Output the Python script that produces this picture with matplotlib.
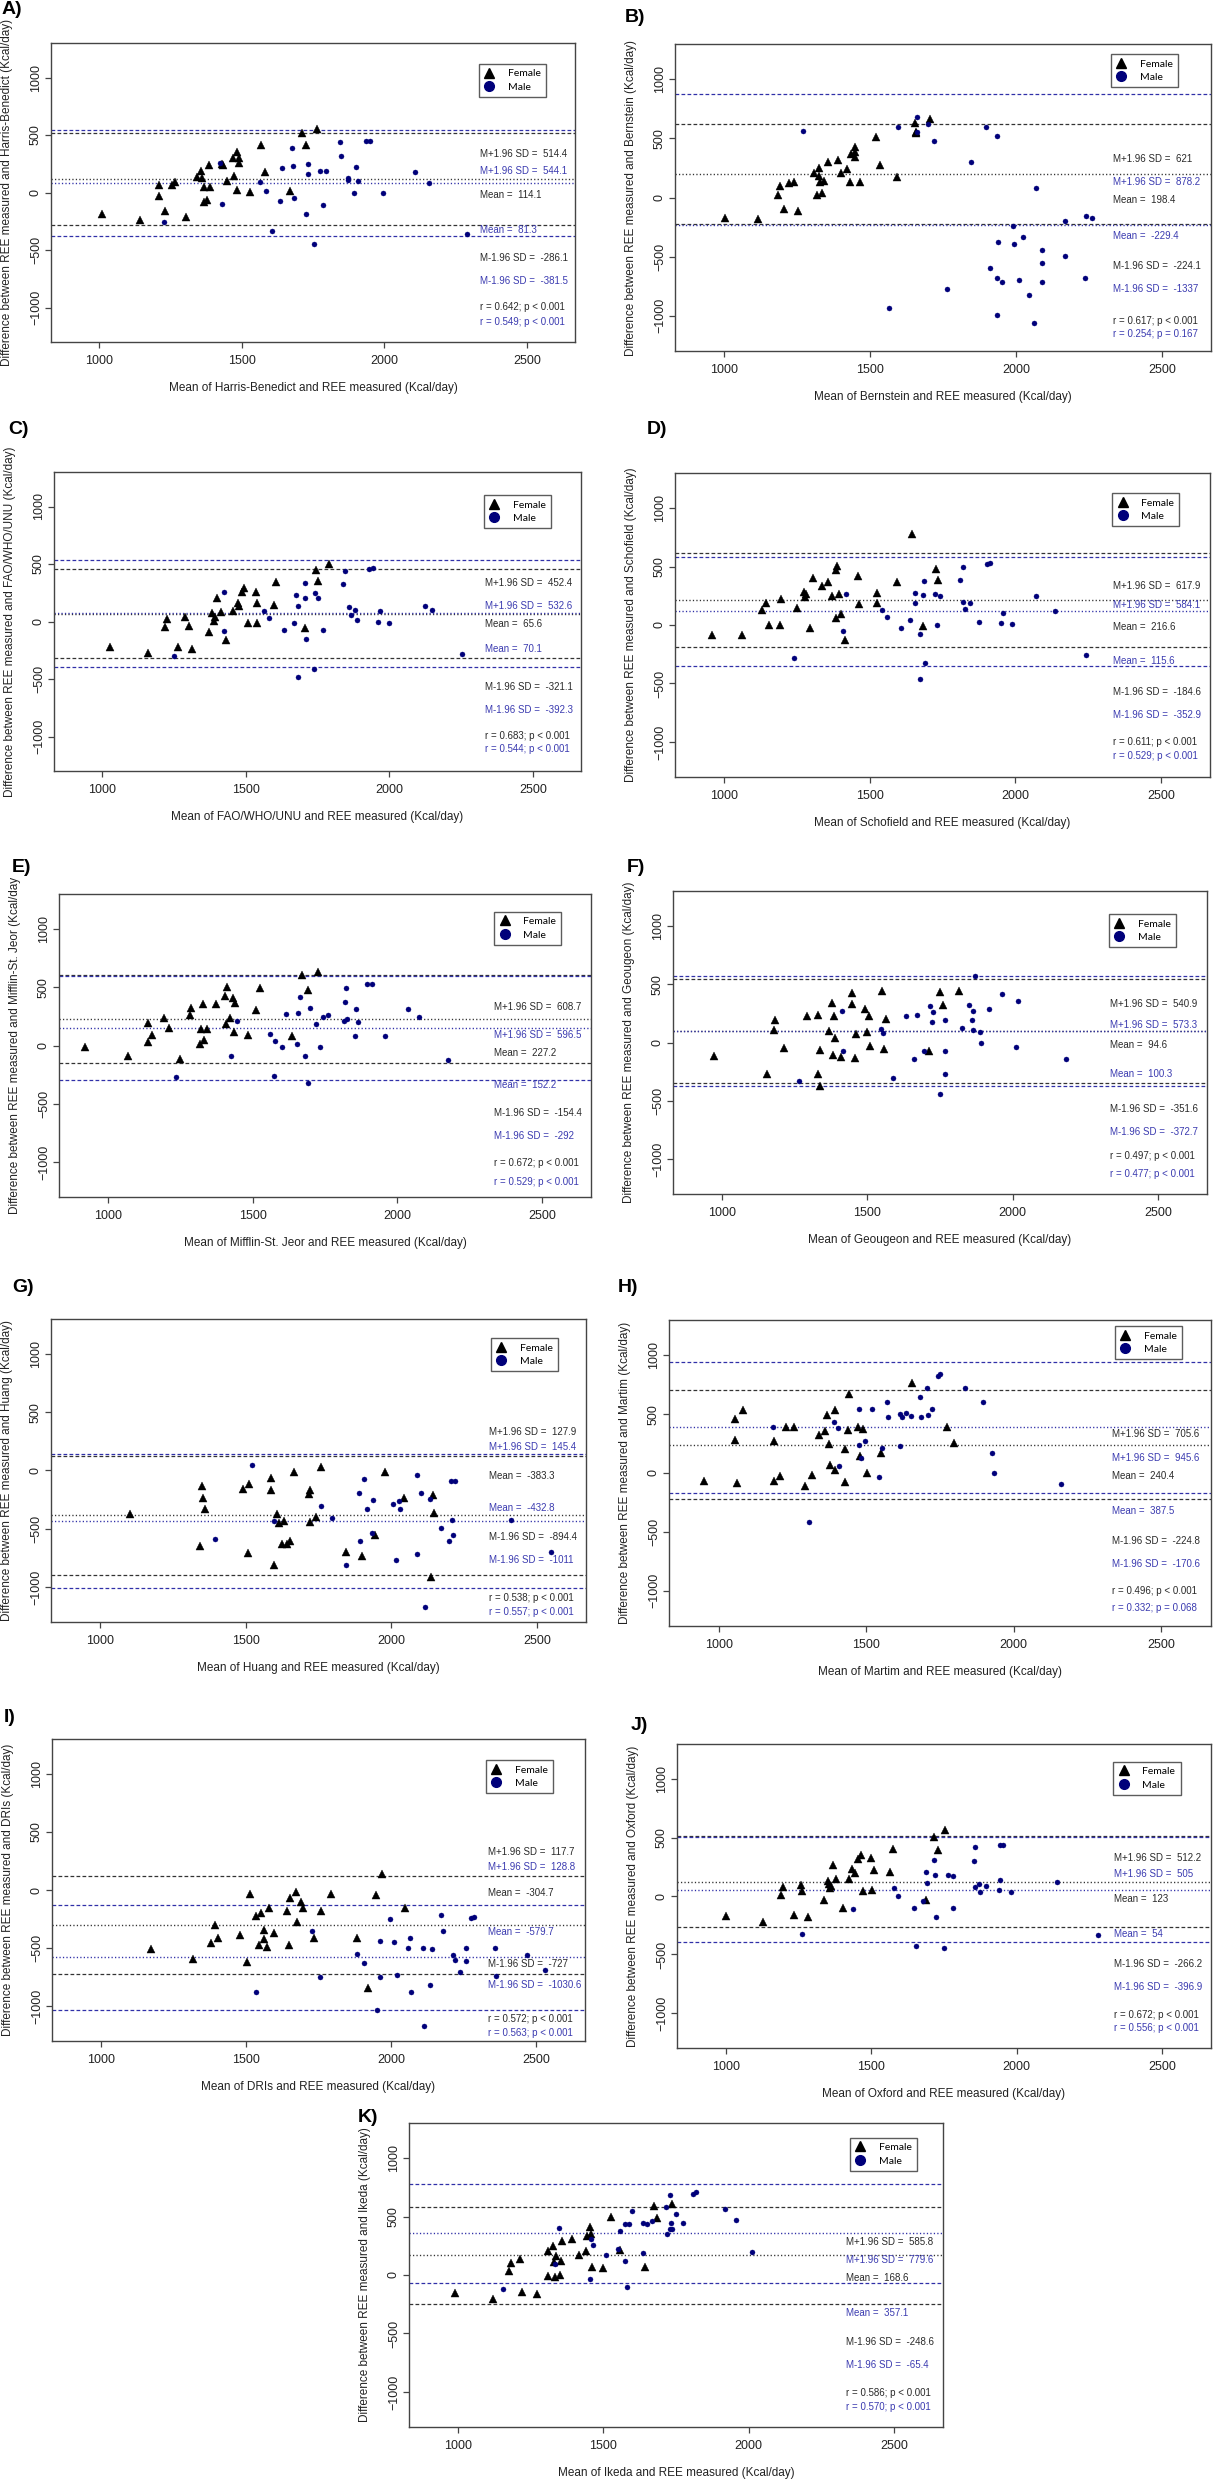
import matplotlib
matplotlib.use('Agg')
import matplotlib.pyplot as plt
from matplotlib.lines import Line2D
import matplotlib.transforms as mtransforms

# ---------------- data ----------------
letters = ['A', 'B', 'C', 'D', 'E', 'F', 'G', 'H', 'I', 'J', 'K']
methods = ['Harris-Benedict', 'Bernstein', 'FAO/WHO/UNU', 'Schofield', 'Mifflin-St. Jeor',
           'Geougeon', 'Huang', 'Martim', 'DRIs', 'Oxford', 'Ikeda']

# limits of agreement and mean bias (female / male)
fem_upper = [514.4, 621, 452.4, 617.9, 608.7, 540.9, 127.9, 705.6, 117.7, 512.2, 585.8]
fem_mean = [114.1, 198.4, 65.6, 216.6, 227.2, 94.6, -383.3, 240.4, -304.7, 123, 168.6]
fem_lower = [-286.1, -224.1, -321.1, -184.6, -154.4, -351.6, -894.4, -224.8, -727, -266.2, -248.6]
male_upper = [544.1, 878.2, 532.6, 584.1, 596.5, 573.3, 145.4, 945.6, -128.8, 505, 779.6]
male_mean = [81.3, -229.4, 70.1, 115.6, 152.2, 100.3, -432.8, 387.5, -579.7, 54, 357.1]
male_lower = [-381.5, -1337, -392.3, -352.9, -292, -372.7, -1011, -170.6, -1030.6, -396.9, -65.4]
# panel I prints the male upper limit without its minus sign
male_upper_printed = {'I': '128.8'}

fem_r = ['r = 0.642; p < 0.001', 'r = 0.617; p < 0.001', 'r = 0.683; p < 0.001',
         'r = 0.611; p < 0.001', 'r = 0.672; p < 0.001', 'r = 0.497; p < 0.001',
         'r = 0.538; p < 0.001', 'r = 0.496; p < 0.001', 'r = 0.572; p < 0.001',
         'r = 0.672; p < 0.001', 'r = 0.586; p < 0.001']
male_r = ['r = 0.549; p < 0.001', 'r = 0.254; p = 0.167', 'r = 0.544; p < 0.001',
          'r = 0.529; p < 0.001', 'r = 0.529; p < 0.001', 'r = 0.477; p < 0.001',
          'r = 0.557; p < 0.001', 'r = 0.332; p = 0.068', 'r = 0.563; p < 0.001',
          'r = 0.556; p < 0.001', 'r = 0.570; p < 0.001']

A_fem_x = [1012, 1143, 1209, 1210, 1233, 1256, 1265, 1304, 1345, 1357, 1360, 1368, 1367, 1380, 1386, 1390,
           1430, 1434, 1450, 1469, 1472, 1484, 1492, 1492, 1484, 1528, 1569, 1582, 1671, 1713, 1724, 1764]
A_fem_y = [-191, -241, 61, -32, -157, 61, 87, -214, 133, 191, 128, 52, -81, -61, 241, 52,
           249, 241, 104, 296, 142, 354, 299, 255, 23, 3, 414, 177, 12, 516, 409, 551]
A_male_x = [1229, 1424, 1431, 1565, 1586, 1607, 1633, 1640, 1678, 1680, 1685, 1725, 1732, 1732, 1755, 1776,
            1785, 1795, 1845, 1848, 1871, 1873, 1895, 1900, 1907, 1934, 1951, 1996, 2109, 2155, 2290]
A_male_y = [-258, 258, -99, 87, 17, -339, -75, 217, 386, 229, -49, -183, 252, 159, -452, 183,
            -113, 191, 443, 316, 128, 107, 0, 220, 104, 452, 452, 0, 180, 81, -359]

B_fem_x = [1004, 1117, 1184, 1190, 1206, 1223, 1241, 1255, 1309, 1318, 1326, 1326, 1328, 1334, 1343, 1355,
           1391, 1399, 1422, 1430, 1434, 1447, 1450, 1450, 1464, 1521, 1533, 1592, 1654, 1658, 1658, 1707]
B_fem_y = [-172, -186, 25, 96, -101, 124, 132, -118, 206, 20, 251, 186, 130, 39, 141, 299,
           318, 206, 239, 135, 369, 346, 431, 383, 132, 513, 276, 172, 631, 544, 558, 668]
B_male_x = [1272, 1595, 1660, 1661, 1697, 1720, 1765, 1566, 1846, 1899, 1936, 1910, 1936, 1952, 1940, 1936,
            1989, 1992, 2011, 2025, 2044, 2061, 2070, 2089, 2089, 2089, 2168, 2168, 2236, 2240, 2261]
B_male_y = [563, 597, 685, 552, 625, 479, -772, -932, 299, 597, 521, -600, -682, -713, -377, -992,
            -239, -397, -696, -338, -823, -1062, 82, -448, -555, -718, -203, -496, -682, -158, -175]

C_fem_x = [1027, 1159, 1220, 1226, 1264, 1289, 1304, 1314, 1371, 1383, 1388, 1392, 1401, 1415, 1430,
           1455, 1472, 1476, 1488, 1495, 1507, 1535, 1539, 1539, 1599, 1606, 1705, 1745, 1753, 1789]
C_fem_y = [-223, -278, -46, 20, -226, 41, -38, -243, -90, 75, 6, 35, 208, 81, -159,
           90, 159, 133, 258, 287, -17, 255, 159, -17, 142, 342, -55, 449, 350, 501]
C_male_x = [1251, 1423, 1425, 1565, 1581, 1634, 1669, 1676, 1682, 1682, 1705, 1707, 1710, 1743, 1737, 1753,
            1770, 1839, 1846, 1859, 1867, 1882, 1888, 1931, 1942, 1961, 1969, 2000, 2125, 2148, 2253]
C_male_y = [-301, 255, -84, 87, 29, -78, -12, 234, 133, -480, 333, 208, -153, 252, -417, 208,
            -78, 327, 443, 127, 58, 104, 9, 454, 466, 0, 87, -9, 139, 98, -281]

D_fem_x = [958, 1061, 1131, 1143, 1154, 1194, 1195, 1252, 1276, 1278, 1280, 1295, 1304, 1337, 1357, 1371,
           1383, 1384, 1389, 1396, 1402, 1414, 1459, 1462, 1525, 1526, 1594, 1647, 1683, 1729, 1736]
D_fem_y = [-85, -85, 128, 191, 0, 0, 222, 148, 282, 239, 262, -23, 405, 330, 370, 251,
           60, 473, 501, 265, 97, -128, 419, 182, 276, 185, 365, 781, -9, 479, 382]
D_male_x = [1240, 1420, 1409, 1544, 1560, 1606, 1640, 1656, 1656, 1673, 1683, 1686, 1690, 1673, 1725, 1731,
            1742, 1811, 1822, 1822, 1827, 1843, 1876, 1903, 1912, 1951, 1959, 1989, 2070, 2137, 2243]
D_male_y = [-279, 265, -54, 128, 68, -23, 46, 274, 188, -74, 259, 373, -322, -462, 262, 0,
            251, 385, 496, 199, 134, 188, 28, 521, 527, 17, 105, 11, 251, 123, -259]

E_fem_x = [923, 1069, 1138, 1140, 1153, 1194, 1212, 1250, 1285, 1289, 1319, 1323, 1328, 1331, 1343,
           1375, 1405, 1410, 1411, 1422, 1433, 1437, 1440, 1483, 1512, 1527, 1636, 1669, 1692, 1726]
E_fem_y = [-14, -94, 197, 26, 89, 232, 146, -112, 263, 326, 17, 140, 355, 43, 140,
           358, 423, 183, 504, 240, 406, 117, 361, 94, 306, 495, 80, 604, 472, 629]
E_male_x = [1237, 1426, 1448, 1560, 1573, 1578, 1603, 1614, 1655, 1656, 1664, 1681, 1691, 1697, 1720, 1732,
            1742, 1761, 1817, 1820, 1821, 1825, 1852, 1858, 1863, 1895, 1913, 1956, 2038, 2074, 2175]
E_male_y = [-272, -89, 206, 100, -263, 37, -17, 269, 17, 275, 418, -94, -323, 323, 183, -9,
            246, 263, 212, 369, 492, 229, 80, 309, 200, 532, 526, 80, 315, 243, -123]

F_fem_x = [972, 1156, 1180, 1182, 1212, 1294, 1329, 1329, 1336, 1338, 1368, 1380, 1381, 1384, 1390, 1410,
           1448, 1449, 1458, 1461, 1493, 1498, 1506, 1508, 1550, 1557, 1565, 1711, 1749, 1762, 1815]
F_fem_y = [-114, -271, 111, 197, -43, 226, 240, -274, -371, -63, 100, 340, -109, 231, 40, -126,
           334, 426, -134, 74, 289, 86, 226, -26, 446, -57, 200, -71, 437, 326, 443]
F_male_x = [1265, 1413, 1418, 1547, 1554, 1589, 1634, 1662, 1671, 1695, 1714, 1722, 1726, 1749, 1766,
            1768, 1768, 1827, 1851, 1859, 1863, 1865, 1872, 1887, 1890, 1920, 1964, 2012, 2018, 2182]
F_male_y = [-334, 274, -77, 120, 83, -306, 226, -140, 240, -71, 314, 177, 263, -446, 197,
            -269, -77, 126, 320, 197, 111, 274, 574, 94, 0, 291, 414, -37, 354, -140]

G_fem_x = [1103, 1345, 1351, 1352, 1361, 1491, 1507, 1511, 1586, 1587, 1598, 1606, 1616, 1624, 1632, 1642,
           1653, 1666, 1719, 1721, 1720, 1741, 1759, 1844, 1898, 1943, 1978, 2044, 2136, 2143, 2146]
G_fem_y = [-374, -650, -134, -234, -331, -160, -710, -117, -66, -171, -810, -371, -451, -633, -437, -633,
           -605, -9, -203, -168, -442, -402, 29, -696, -736, -556, -17, -237, -916, -208, -368]
G_male_x = [1395, 1522, 1598, 1759, 1796, 1843, 1889, 1894, 1905, 1915, 1932, 1936, 2004, 2017, 2025,
            2030, 2087, 2087, 2103, 2115, 2133, 2171, 2197, 2204, 2211, 2218, 2208, 2412, 2547]
G_male_y = [-591, 51, -434, -305, -405, -810, -194, -602, -71, -334, -539, -251, -291, -767, -262,
            -328, -37, -713, -197, -1170, -245, -496, -608, -94, -551, -91, -428, -428, -702]

H_fem_x = [950, 1055, 1055, 1063, 1083, 1188, 1189, 1209, 1230, 1256, 1293, 1316, 1341, 1361, 1367, 1374,
           1379, 1395, 1396, 1429, 1429, 1440, 1442, 1471, 1480, 1489, 1503, 1551, 1655, 1773, 1799]
H_fem_y = [-68, 458, 282, -82, 537, -71, 274, -28, 387, 395, -110, -20, 325, 359, 497, 243,
           65, 28, 537, 201, -73, 362, 667, 393, 144, 370, -3, 172, 766, 387, 257]
H_male_x = [1185, 1306, 1392, 1406, 1408, 1474, 1476, 1482, 1496, 1518, 1542, 1555, 1570, 1575, 1615, 1615,
            1622, 1635, 1652, 1682, 1687, 1707, 1711, 1724, 1744, 1749, 1836, 1894, 1927, 1934, 2160]
H_male_y = [393, -418, 432, 379, 62, 548, 237, 130, 268, 548, -31, 212, 607, 472, 226, 500,
            472, 514, 483, 644, 472, 718, 494, 542, 828, 845, 723, 602, 172, 3, -96]

I_fem_x = [1174, 1318, 1381, 1392, 1403, 1478, 1502, 1515, 1533, 1546, 1551, 1562, 1563, 1573, 1579, 1598,
           1642, 1648, 1652, 1672, 1677, 1689, 1697, 1735, 1759, 1793, 1883, 1922, 1949, 1969, 2049]
I_fem_y = [-510, -593, -458, -304, -410, -390, -616, -37, -223, -476, -198, -341, -424, -490, -152, -372,
           -181, -470, -72, -14, -272, -100, -152, -413, -181, -34, -415, -842, -46, 140, -158]
I_male_x = [1534, 1727, 1755, 1883, 1907, 1953, 1963, 1963, 1996, 2010, 2020, 2057, 2064, 2069, 2111, 2112,
            2135, 2141, 2171, 2180, 2214, 2219, 2238, 2259, 2259, 2274, 2287, 2357, 2363, 2468, 2531]
I_male_y = [-874, -352, -751, -553, -628, -1032, -436, -745, -252, -444, -731, -501, -415, -874, -501, -1175,
            -817, -507, -215, -355, -562, -599, -702, -496, -607, -238, -232, -496, -739, -559, -693]

J_fem_x = [1000, 1129, 1191, 1196, 1234, 1259, 1263, 1283, 1339, 1352, 1355, 1358, 1362, 1370, 1378, 1402,
           1423, 1434, 1443, 1456, 1466, 1472, 1500, 1503, 1510, 1565, 1573, 1687, 1717, 1729, 1754]
J_fem_y = [-170, -219, 11, 77, -165, 94, 43, -182, -31, 128, 99, 68, 88, 267, 148, -99,
           148, 233, 193, 313, 347, 45, 321, 48, 219, 207, 403, -31, 506, 392, 563]
J_male_x = [1262, 1436, 1578, 1591, 1646, 1653, 1679, 1687, 1692, 1717, 1719, 1721, 1750, 1765, 1781,
            1781, 1853, 1856, 1858, 1869, 1875, 1895, 1938, 1942, 1942, 1954, 1982, 2138, 2279]
J_male_y = [-327, -108, 65, 0, -102, -426, -43, 205, 114, 310, 182, -176, -443, 182, 170,
            -102, 298, 77, 415, 99, 31, 82, 48, 139, 435, 440, 31, 116, -332]

K_fem_x = [990, 1120, 1177, 1184, 1212, 1220, 1273, 1309, 1310, 1326, 1330, 1333, 1339, 1350, 1355,
           1359, 1394, 1415, 1441, 1445, 1456, 1458, 1461, 1499, 1526, 1559, 1642, 1675, 1684, 1736]
K_fem_y = [-151, -203, 37, 100, 140, -143, -166, 203, -11, 249, 109, -20, 163, -3, 117,
           289, 311, 169, 203, 337, 409, 351, 71, 60, 497, 214, 69, 591, 489, 603]
K_male_x = [1156, 1333, 1348, 1454, 1457, 1465, 1510, 1549, 1559, 1573, 1576, 1581, 1590, 1597, 1635, 1635,
            1650, 1667, 1715, 1718, 1728, 1729, 1734, 1737, 1751, 1774, 1809, 1820, 1917, 1957, 2013]
K_male_y = [-117, 91, 406, -31, 309, 257, 169, 223, 374, 123, 434, -106, 437, 551, 449, 186,
            437, 460, 580, 349, 391, 680, 449, 397, 523, 449, 697, 711, 563, 474, 200]

fem_x = [A_fem_x, B_fem_x, C_fem_x, D_fem_x, E_fem_x, F_fem_x, G_fem_x, H_fem_x, I_fem_x, J_fem_x, K_fem_x]
fem_y = [A_fem_y, B_fem_y, C_fem_y, D_fem_y, E_fem_y, F_fem_y, G_fem_y, H_fem_y, I_fem_y, J_fem_y, K_fem_y]
male_x = [A_male_x, B_male_x, C_male_x, D_male_x, E_male_x, F_male_x, G_male_x, H_male_x, I_male_x, J_male_x, K_male_x]
male_y = [A_male_y, B_male_y, C_male_y, D_male_y, E_male_y, F_male_y, G_male_y, H_male_y, I_male_y, J_male_y, K_male_y]

# ---------------- layout (pixels of the 1213 x 2481 figure) ----------------
W, H = 1213, 2481
# axes boxes: left, top, right, bottom
boxes = [(51, 43, 575, 342), (675, 44, 1211, 351),
         (54, 472, 581, 771), (675, 473, 1210, 777),
         (59, 894, 591, 1197), (673, 891, 1207, 1194),
         (51, 1319, 586, 1622), (669, 1320, 1211, 1626),
         (52, 1739, 585, 2041), (677, 1744, 1211, 2048),
         (409, 2123, 943, 2427)]
tag_pos = [(2, 10), (625, 17), (8, 430), (647, 430), (12, 867), (627, 867),
           (12, 1287), (618, 1287), (4, 1718), (631, 1725), (358, 2118)]
# legend upper-left corner in axes fraction
legend_pos = [(0.816, 0.930), (0.813, 0.967), (0.815, 0.923), (0.817, 0.934), (0.818, 0.942),
              (0.816, 0.924), (0.822, 0.937), (0.823, 0.980), (0.814, 0.930), (0.817, 0.942),
              (0.825, 0.952)]
# y (data units) of the 8 stat texts: f+, m+, f mean, m mean, f-, m-, f r, m r
text_y = [[332, 190, -22, -326, -572, -770, -998, -1123],
          [326, 129, -24, -323, -577, -772, -1043, -1159],
          [332, 132, -19, -242, -572, -770, -998, -1111],
          [334, 168, -20, -305, -570, -770, -998, -1120],
          [328, 90, -62, -342, -577, -774, -1011, -1169],
          [330, 150, -21, -273, -571, -768, -974, -1131],
          [330, 202, -44, -319, -573, -771, -1094, -1217],
          [329, 130, -23, -323, -575, -776, -1005, -1147],
          [325, 198, -23, -359, -634, -815, -1111, -1234],
          [325, 185, -26, -325, -579, -776, -1018, -1132],
          [285, 128, -23, -322, -573, -773, -1006, -1132]]

NARROW = ['Liberation Sans Narrow', 'Liberation Sans', 'DejaVu Sans']
BLACK_TXT = '#2a2a2a'
BLUE_TXT = '#3b3bb0'
BLUE_LINE = '#3030a8'
MALE_PT = '#00007a'

plt.rcParams['font.family'] = NARROW

fig = plt.figure(figsize=(W / 100, H / 100), dpi=100)


def fmt(v):
    return f"{v:g}"


for i, letter in enumerate(letters):
    l, t, r, b = boxes[i]
    ax = fig.add_axes([l / W, 1 - b / H, (r - l) / W, (b - t) / H])
    ax.set_xlim(832, 2668)
    ax.set_ylim(-1300, 1300)

    # limits of agreement (dashed) and mean bias (dotted)
    dash = dict(lw=0.9, dashes=(3.0, 1.8))
    dot = dict(lw=1.0, dashes=(0.9, 1.6))
    ax.axhline(fem_upper[i], color='#333333', **dash)
    ax.axhline(fem_lower[i], color='#333333', **dash)
    ax.axhline(fem_mean[i], color='#333333', **dot)
    ax.axhline(male_upper[i], color=BLUE_LINE, **dash)
    ax.axhline(male_lower[i], color=BLUE_LINE, **dash)
    ax.axhline(male_mean[i], color=BLUE_LINE, **dot)

    ax.plot(fem_x[i], fem_y[i], ls='none', marker='^', ms=5.2, color='black', mec='black', mew=0.3)
    ax.plot(male_x[i], male_y[i], ls='none', marker='o', ms=3.6, color=MALE_PT, mec=MALE_PT, mew=0.3)

    # stats text block
    tr = mtransforms.blended_transform_factory(ax.transAxes, ax.transData)
    ty = text_y[i]
    mu_txt = male_upper_printed.get(letter, fmt(male_upper[i]))
    items = [(f"M+1.96 SD =  {fmt(fem_upper[i])}", BLACK_TXT),
             (f"M+1.96 SD =  {mu_txt}", BLUE_TXT),
             (f"Mean =  {fmt(fem_mean[i])}", BLACK_TXT),
             (f"Mean =  {fmt(male_mean[i])}", BLUE_TXT),
             (f"M-1.96 SD =  {fmt(fem_lower[i])}", BLACK_TXT),
             (f"M-1.96 SD =  {fmt(male_lower[i])}", BLUE_TXT),
             (fem_r[i], BLACK_TXT),
             (male_r[i], BLUE_TXT)]
    for (s, c), yy in zip(items, ty):
        ax.text(0.818, yy, s, transform=tr, color=c, fontsize=7, ha='left', va='center')

    # legend
    handles = [Line2D([], [], ls='none', marker='^', ms=7, color='black'),
               Line2D([], [], ls='none', marker='o', ms=7, color=MALE_PT)]
    leg = ax.legend(handles, ['Female', 'Male'], loc='upper left', bbox_to_anchor=legend_pos[i],
                    bbox_transform=ax.transAxes, frameon=True, fancybox=False,
                    prop={'family': ['Lato', 'DejaVu Sans'], 'size': 7.5},
                    borderpad=0.5, labelspacing=0.4, handlelength=1.0, handletextpad=1.3,
                    borderaxespad=0)
    leg.get_frame().set_edgecolor('#333333')
    leg.get_frame().set_linewidth(1.0)

    # axes styling, base-R like
    for sp in ax.spines.values():
        sp.set_color('#444444')
        sp.set_linewidth(1.0)
    ax.set_xticks([1000, 1500, 2000, 2500])
    ax.set_yticks([-1000, -500, 0, 500, 1000])
    ax.tick_params(axis='both', direction='out', length=4.5, width=0.9, color='#444444',
                   labelsize=9, labelcolor='#222222')
    ax.tick_params(axis='x', pad=5)
    ax.tick_params(axis='y', pad=2)
    for lab in ax.get_yticklabels():
        lab.set_rotation(90)
        lab.set_va('center')

    w_px, h_px = r - l, b - t
    ylab = f"Difference between REE measured and {methods[i]} (Kcal/day)"
    if letter == 'E':
        ylab = ylab[:-1]  # closing parenthesis is cut in the source
    ax.text(-44 / w_px, 0.5, ylab, transform=ax.transAxes, rotation=90,
            ha='center', va='center', fontsize=8.5, color='#222222')
    ax.text(0.5, -46 / h_px, f"Mean of {methods[i]} and REE measured (Kcal/day)",
            transform=ax.transAxes, ha='center', va='center', fontsize=8.5, color='#222222')

    tx, tyy = tag_pos[i]
    fig.text(tx / W, 1 - tyy / H, f"{letter})", fontsize=14, fontweight='bold',
             ha='left', va='center', color='black')

fig.savefig('out.png', dpi=100, facecolor='white')
